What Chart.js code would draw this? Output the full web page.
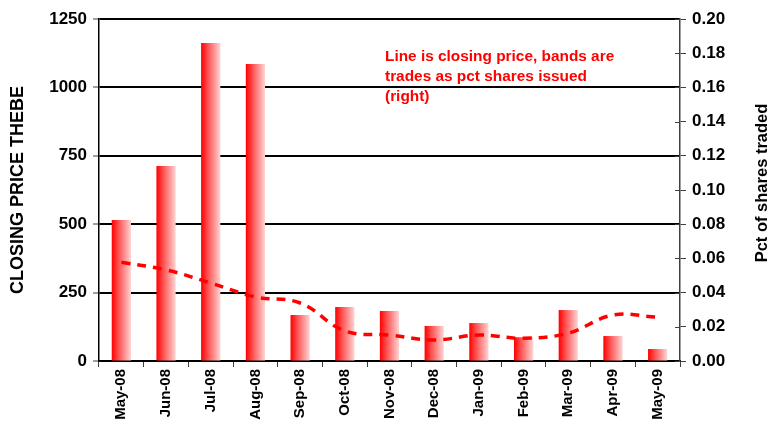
<!DOCTYPE html>
<html>
<head>
<meta charset="utf-8">
<script src="https://cdn.jsdelivr.net/npm/chart.js@4/dist/chart.umd.min.js"></script>
<style>
  html, body { margin: 0; padding: 0; background: #fff; }
  #wrap { width: 769px; height: 424px; }
</style>
</head>
<body>
<div id="wrap"><canvas id="priceChart"></canvas></div>
<script>
const months = ['May-08', 'Jun-08', 'Jul-08', 'Aug-08', 'Sep-08', 'Oct-08', 'Nov-08',
                'Dec-08', 'Jan-09', 'Feb-09', 'Mar-09', 'Apr-09', 'May-09'];
// closing price, thebe (left axis)
const closingPrice = [361, 333, 285, 234, 212, 110, 95, 77, 95, 83, 102, 168, 160];
// trades as pct of shares issued (right axis)
const pctTraded = [0.0825, 0.114, 0.186, 0.1737, 0.0269, 0.0316, 0.0292,
                   0.0205, 0.0222, 0.0139, 0.0298, 0.0146, 0.007];
const noteLines = ['Line is closing price, bands are', 'trades as pct shares issued', '(right)'];

const FONT = 'Liberation Sans, Arial, sans-serif';

// each bar gets its own left-to-right red->pink gradient
const barGradient = {
    id: 'barGradient',
    beforeDatasetDraw(chart, args) {
        const meta = args.meta;
        if (meta.type !== 'bar') return;
        const ctx = chart.ctx;
        meta.data.forEach(bar => {
            const x0 = bar.x - bar.width / 2;
            const g = ctx.createLinearGradient(x0, 0, x0 + bar.width, 0);
            g.addColorStop(0, '#ff0000');
            g.addColorStop(0.35, '#ff5050');
            g.addColorStop(1, '#ffd4d4');
            bar.options = Object.assign({}, bar.options, { backgroundColor: g });
        });
    }
};

const extras = {
    id: 'extras',
    afterDraw(chart) {
        const ctx = chart.ctx;
        const area = chart.chartArea;
        ctx.save();
        // right axis title reads bottom-to-top like the left one
        ctx.translate(762, 183);
        ctx.rotate(-Math.PI / 2);
        ctx.font = 'bold 16.5px ' + FONT;
        ctx.fillStyle = '#000';
        ctx.textAlign = 'center';
        ctx.textBaseline = 'middle';
        ctx.fillText('Pct of shares traded', 0, 0);
        ctx.restore();

        // right axis ticks poke into the plot as well
        const y1 = chart.scales.y1;
        ctx.save();
        ctx.strokeStyle = '#404040';
        ctx.lineWidth = 1;
        y1.ticks.forEach((t, i) => {
            const y = Math.round(y1.getPixelForTick(i)) + 0.5;
            ctx.beginPath();
            ctx.moveTo(area.right - 5, y);
            ctx.lineTo(area.right, y);
            ctx.stroke();
        });
        ctx.restore();

        ctx.save();
        ctx.font = 'bold 15.4px ' + FONT;
        ctx.fillStyle = '#ff0000';
        ctx.textBaseline = 'middle';
        noteLines.forEach((line, i) => ctx.fillText(line, 385, 57 + i * 20));
        ctx.restore();
    }
};

new Chart(document.getElementById('priceChart'), {
    data: {
        labels: months,
        datasets: [{
            type: 'line',
            label: 'Closing price',
            data: closingPrice,
            yAxisID: 'y',
            borderColor: '#ff0000',
            borderWidth: 3.5,
            borderDash: [9, 7],
            tension: 0.4,
            pointRadius: 0,
            fill: false,
            order: 0
        }, {
            type: 'bar',
            label: 'Pct of shares traded',
            data: pctTraded,
            yAxisID: 'y1',
            backgroundColor: '#ff4040',
            categoryPercentage: 1,
            barPercentage: 0.43,
            order: 1
        }]
    },
    options: {
        responsive: true,
        maintainAspectRatio: false,
        animation: false,
        layout: { padding: { top: 19, left: 0, right: 0, bottom: 0 } },
        plugins: { legend: { display: false }, tooltip: { enabled: false } },
        scales: {
            x: {
                offset: true,
                afterFit: s => { s.height = 63; },
                border: { color: '#000', width: 1.5 },
                grid: { display: true, drawOnChartArea: false, offset: true, color: '#404040', tickLength: 6 },
                ticks: {
                    minRotation: 90, maxRotation: 90, padding: 2,
                    color: '#000', font: { family: FONT, size: 15, weight: 'bold' }
                }
            },
            y: {
                position: 'left',
                min: 0, max: 1250,
                afterFit: s => { s.width = 99; },
                border: { color: '#000', width: 1.5 },
                grid: { color: '#000', lineWidth: 2, tickLength: 6, tickColor: '#404040', tickWidth: 1 },
                ticks: {
                    stepSize: 250, padding: 6, color: '#000',
                    callback: v => String(v),
                    font: { family: FONT, size: 17, weight: 'bold' }
                },
                title: {
                    display: true, text: 'CLOSING PRICE THEBE', color: '#000',
                    padding: { top: 7, bottom: 0 },
                    font: { family: FONT, size: 18, weight: 'bold' }
                }
            },
            y1: {
                position: 'right',
                min: 0, max: 0.2,
                afterFit: s => { s.width = 89; },
                border: { color: '#404040', width: 1.5 },
                grid: { drawOnChartArea: false, tickLength: 6, color: '#404040' },
                ticks: {
                    stepSize: 0.02, padding: 6, color: '#000',
                    callback: v => v.toFixed(2),
                    font: { family: FONT, size: 17, weight: 'bold' }
                }
            }
        }
    },
    plugins: [barGradient, extras]
});
</script>
</body>
</html>
